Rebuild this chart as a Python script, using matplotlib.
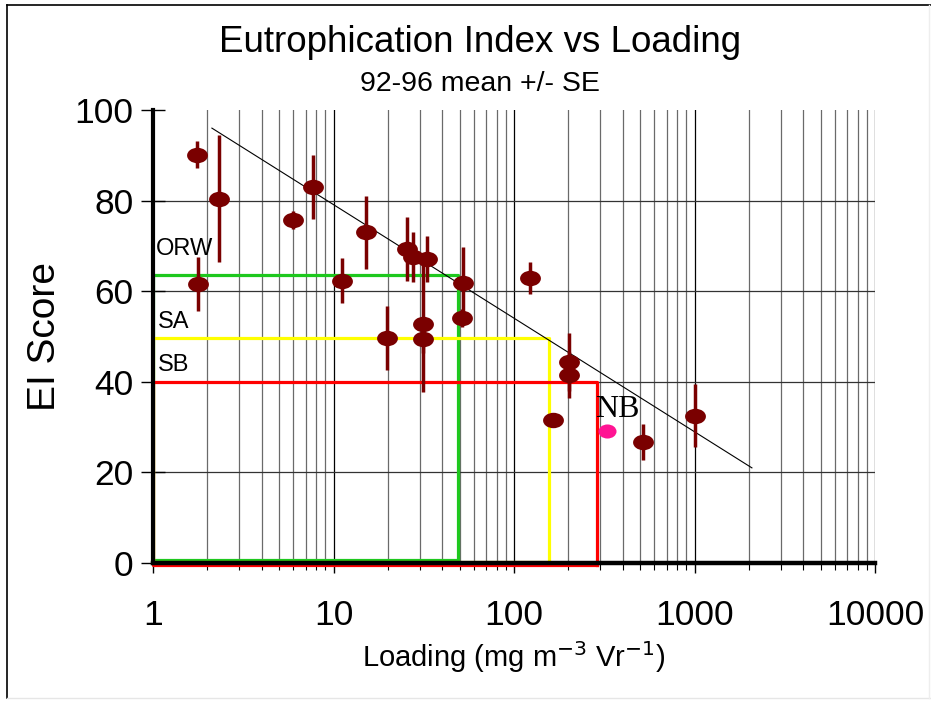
import numpy as np
import matplotlib
matplotlib.use("Agg")
import matplotlib.pyplot as plt
from matplotlib.path import Path
from matplotlib.lines import Line2D

plt.rcParams['font.family'] = ['Liberation Sans', 'DejaVu Sans']

# Data
loading = [1.75, 2.32, 5.97, 7.7, 1.78, 11.1, 15.1, 19.8, 25.5, 27.6, 33.0, 31.5, 31.5,
           52.0, 51.5, 123, 201, 201, 164, 519, 1000]
ei_score = [90.1, 80.4, 75.7, 83.0, 61.6, 62.3, 73.0, 49.7, 69.3, 67.5, 67.1, 52.8, 49.4,
            61.8, 54.1, 62.9, 44.4, 41.5, 31.6, 26.7, 32.5]
ei_se = [3.0, 14.0, 2.0, 7.0, 6.0, 5.0, 8.0, 7.0, 7.0, 5.5, 5.0, 15.0, 3.0,
         8.0, 2.0, 3.5, 6.4, 5.0, 0.0, 4.0, 7.0]
nb_loading = [326]
nb_score = [29.1]
trend_x = [2.12, 2080]
trend_y = [96.0, 21.0]
# standards boxes
std_names = ['ORW', 'SA', 'SB']
std_loading = [49, 156, 290]
std_score = [63.6, 49.7, 40.0]
x_ticks = [1, 10, 100, 1000, 10000]
y_ticks = [0, 20, 40, 60, 80, 100]

fig = plt.figure(figsize=(9.31, 7.01), dpi=100)
ax = fig.add_axes([153/931, 1-563/701, (875-153)/931, (563-110)/701])
ax.set_xscale('log')
ax.set_xlim(1, 10000)
ax.set_ylim(0, 100)

# vertical grid lines at all log positions
for dec in [1, 10, 100, 1000]:
    for m in range(1, 10):
        v = dec*m
        ax.plot([v, v], [0, 100], color='#000000' if m == 1 else '#6a6a6a', lw=0.9, zorder=1)
ax.plot([10000, 10000], [0, 100], color='#000000', lw=0.9, zorder=1)
for yv in [20, 40, 60, 80]:
    ax.plot([1, 10000], [yv, yv], color='#333333', lw=0.9, zorder=1)

# standard boxes
box_colors = ['#1ec81e', '#ffff00', '#ff0000']
box_bottom = [0.7, 0.3, -0.4]
for lx, sy, c, b in zip(std_loading, std_score, box_colors, box_bottom):
    ax.plot([1.005, lx, lx], [sy, sy, b], color=c, lw=2.3, zorder=3, clip_on=False)
    ax.plot([1.005, 1.005, lx], [sy, b, b], color=c, lw=2.3, zorder=3, clip_on=False)

label_x = [1.04, 1.06, 1.06]
label_y = [69.3, 53.3, 43.8]
for nm, lxp, lyp in zip(std_names, label_x, label_y):
    ax.text(lxp, lyp, nm, fontsize=17, ha='left', va='center', zorder=5)

# trend line
ax.plot(trend_x, trend_y, color='black', lw=0.8, zorder=4)

# ellipse markers
circ = Path.unit_circle()
ell = Path(circ.vertices * np.array([1.0, 0.74]), circ.codes)
ell2 = Path(circ.vertices * np.array([1.0, 0.78]), circ.codes)

ax.errorbar(loading, ei_score, yerr=ei_se, fmt='none', ecolor='#7a0000', elinewidth=2.5,
            capsize=0, zorder=6)
ax.plot(loading, ei_score, linestyle='none', marker=ell, markersize=15,
        color='#7a0000', markeredgewidth=0, zorder=7)
ax.plot(nb_loading, nb_score, linestyle='none', marker=ell2, markersize=13,
        color='#ff1493', markeredgewidth=0, zorder=7)
ax.text(281, 33.8, 'NB', fontsize=23, family='Liberation Serif',
        ha='left', va='center', zorder=8)

# spines
for s in ['top', 'right']:
    ax.spines[s].set_visible(False)
ax.spines['left'].set_linewidth(3)
ax.spines['bottom'].set_linewidth(3.2)
ax.spines['left'].set_zorder(9)
ax.spines['bottom'].set_zorder(9)

ax.set_xticks(x_ticks)
ax.set_xticklabels([str(v) for v in x_ticks])
ax.set_yticks(y_ticks)
ax.set_yticklabels([str(v) for v in y_ticks])
ax.tick_params(axis='y', direction='inout', length=17, width=1, labelsize=25.5, pad=5.5)
ax.tick_params(axis='x', which='major', direction='out', length=7, width=1, labelsize=25.5, pad=19)
ax.tick_params(axis='x', which='minor', direction='out', length=5, width=0.8, labelbottom=False)

ax.set_xlabel('Loading (mg m$^{-3}$ Vr$^{-1}$)', fontsize=21, labelpad=5)
ax.set_ylabel('EI Score', fontsize=28, labelpad=8)

fig.text(480/931, 1-42/701, 'Eutrophication Index vs Loading', fontsize=26.5,
         ha='center', va='center')
fig.text(480/931, 1-84/701, '92-96 mean +/- SE', fontsize=20.5, ha='center', va='center')

# outer frame: black top/left, faint right/bottom
fig.add_artist(Line2D([7/931, 931/931], [1-5/701, 1-5/701], transform=fig.transFigure,
                      color='black', lw=1.2))
fig.add_artist(Line2D([7/931, 7/931], [1-5/701, 1-698/701], transform=fig.transFigure,
                      color='black', lw=1.2))
fig.add_artist(Line2D([7/931, 931/931], [1-698/701, 1-698/701], transform=fig.transFigure,
                      color='#e6e6e6', lw=1))
fig.add_artist(Line2D([929/931, 929/931], [1-5/701, 1-698/701], transform=fig.transFigure,
                      color='#eeeeee', lw=1))

fig.savefig('out.png', dpi=100)
